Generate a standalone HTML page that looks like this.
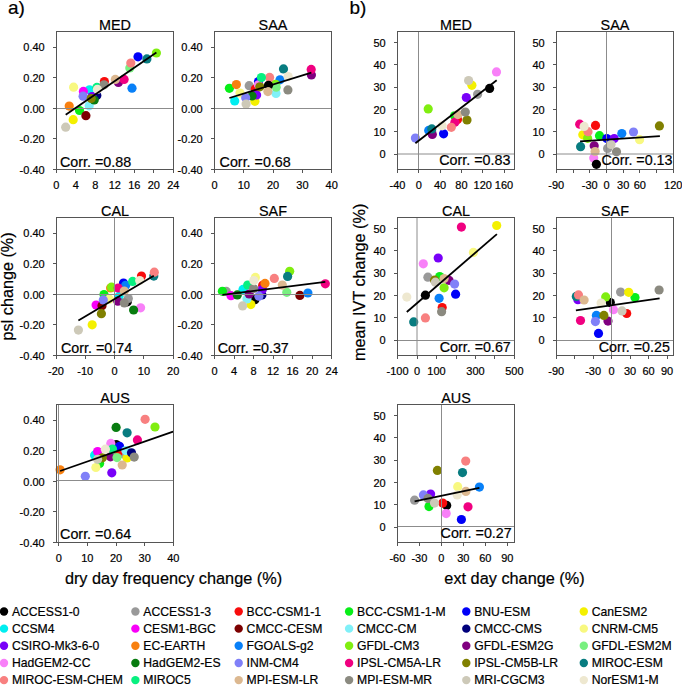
<!DOCTYPE html>
<html><head><meta charset="utf-8"><style>
html,body{margin:0;padding:0;background:#fff;}
svg{display:block;}
text{font-family:"Liberation Sans", sans-serif;fill:#000;stroke:#000;stroke-width:0.2px;}
</style></head><body>
<svg width="682" height="685" viewBox="0 0 682 685">
<rect width="682" height="685" fill="#fff"/>
<circle cx="104.4" cy="81.5" r="4.6" fill="#f80c0c"/>
<circle cx="79.5" cy="110.5" r="4.6" fill="#08ee18"/>
<circle cx="138" cy="56.8" r="4.6" fill="#0000f8"/>
<circle cx="73.2" cy="119.7" r="4.6" fill="#f4f000"/>
<circle cx="89.5" cy="89.8" r="4.6" fill="#00eef0"/>
<circle cx="83.4" cy="91.4" r="4.6" fill="#f800f8"/>
<circle cx="85.9" cy="115.7" r="4.6" fill="#7c0000"/>
<circle cx="89.2" cy="105.8" r="4.6" fill="#80f0f8"/>
<circle cx="96.8" cy="95.5" r="4.6" fill="#00007c"/>
<circle cx="73.6" cy="87.2" r="4.6" fill="#f8f880"/>
<circle cx="92" cy="96.5" r="4.6" fill="#7800f8"/>
<circle cx="69.2" cy="106.1" r="4.6" fill="#f88010"/>
<circle cx="132" cy="88.2" r="4.6" fill="#0880f8"/>
<circle cx="156.4" cy="53" r="4.6" fill="#80ee10"/>
<circle cx="118.4" cy="82.5" r="4.6" fill="#800080"/>
<circle cx="129.8" cy="68" r="4.6" fill="#78f080"/>
<circle cx="94.2" cy="100" r="4.6" fill="#087c10"/>
<circle cx="83.1" cy="96.2" r="4.6" fill="#8080f8"/>
<circle cx="124.1" cy="79.4" r="4.6" fill="#f00080"/>
<circle cx="91.2" cy="98.5" r="4.6" fill="#808000"/>
<circle cx="146.9" cy="58.9" r="4.6" fill="#087c80"/>
<circle cx="130.8" cy="63.1" r="4.6" fill="#f88080"/>
<circle cx="96.9" cy="87.4" r="4.6" fill="#08f080"/>
<circle cx="115.3" cy="79.4" r="4.6" fill="#dcb890"/>
<circle cx="104" cy="84.8" r="4.6" fill="#8b8a80"/>
<circle cx="65.7" cy="127.2" r="4.6" fill="#cdc9b8"/>
<circle cx="97.4" cy="89.4" r="4.6" fill="#eee8d0"/>
<line x1="56.5" y1="108.50" x2="173.5" y2="108.50" stroke="#8c8c8c" stroke-width="1"/>
<line x1="65.7" y1="114.7" x2="156.4" y2="52.6" stroke="#000" stroke-width="1.8"/>
<rect x="56.5" y="31.5" width="117.00" height="138" fill="none" stroke="#555" stroke-width="1"/>
<line x1="56.50" y1="169.5" x2="56.50" y2="173.0" stroke="#555" stroke-width="1"/>
<text x="56.20" y="188.80" font-size="11" text-anchor="middle" >0</text>
<line x1="75.50" y1="169.5" x2="75.50" y2="173.0" stroke="#555" stroke-width="1"/>
<text x="75.72" y="188.80" font-size="11" text-anchor="middle" >4</text>
<line x1="95.50" y1="169.5" x2="95.50" y2="173.0" stroke="#555" stroke-width="1"/>
<text x="95.23" y="188.80" font-size="11" text-anchor="middle" >8</text>
<line x1="114.50" y1="169.5" x2="114.50" y2="173.0" stroke="#555" stroke-width="1"/>
<text x="114.75" y="188.80" font-size="11" text-anchor="middle" >12</text>
<line x1="134.50" y1="169.5" x2="134.50" y2="173.0" stroke="#555" stroke-width="1"/>
<text x="134.27" y="188.80" font-size="11" text-anchor="middle" >16</text>
<line x1="153.50" y1="169.5" x2="153.50" y2="173.0" stroke="#555" stroke-width="1"/>
<text x="153.78" y="188.80" font-size="11" text-anchor="middle" >20</text>
<line x1="173.50" y1="169.5" x2="173.50" y2="173.0" stroke="#555" stroke-width="1"/>
<text x="173.30" y="188.80" font-size="11" text-anchor="middle" >24</text>
<line x1="53.0" y1="47.50" x2="56.5" y2="47.50" stroke="#555" stroke-width="1"/>
<text x="44.70" y="51.30" font-size="11" text-anchor="end" >0.40</text>
<line x1="53.0" y1="77.50" x2="56.5" y2="77.50" stroke="#555" stroke-width="1"/>
<text x="44.70" y="81.90" font-size="11" text-anchor="end" >0.20</text>
<line x1="53.0" y1="108.50" x2="56.5" y2="108.50" stroke="#555" stroke-width="1"/>
<text x="44.70" y="112.50" font-size="11" text-anchor="end" >0.00</text>
<line x1="53.0" y1="138.50" x2="56.5" y2="138.50" stroke="#555" stroke-width="1"/>
<text x="44.70" y="143.10" font-size="11" text-anchor="end" >-0.20</text>
<line x1="53.0" y1="169.50" x2="56.5" y2="169.50" stroke="#555" stroke-width="1"/>
<text x="44.70" y="173.70" font-size="11" text-anchor="end" >-0.40</text>
<text x="115.00" y="29.90" font-size="14.4" text-anchor="middle" >MED</text>
<text x="60.00" y="166.70" font-size="14.3" text-anchor="start" >Corr. =0.88</text>
<circle cx="249.2" cy="85.7" r="4.6" fill="#999999"/>
<circle cx="255.3" cy="89" r="4.6" fill="#f80c0c"/>
<circle cx="229.4" cy="88.3" r="4.6" fill="#08ee18"/>
<circle cx="258.5" cy="81.5" r="4.6" fill="#0000f8"/>
<circle cx="254.9" cy="101.3" r="4.6" fill="#f4f000"/>
<circle cx="234.7" cy="100.9" r="4.6" fill="#00eef0"/>
<circle cx="276" cy="93.5" r="4.6" fill="#80f0f8"/>
<circle cx="240" cy="93" r="4.6" fill="#f8f880"/>
<circle cx="256.6" cy="95" r="4.6" fill="#7800f8"/>
<circle cx="236.4" cy="84.6" r="4.6" fill="#f88010"/>
<circle cx="280" cy="79.8" r="4.6" fill="#0880f8"/>
<circle cx="275.5" cy="84.3" r="4.6" fill="#80ee10"/>
<circle cx="311.4" cy="75" r="4.6" fill="#800080"/>
<circle cx="276.2" cy="87.2" r="4.6" fill="#78f080"/>
<circle cx="258.4" cy="84.8" r="4.6" fill="#f880f8"/>
<circle cx="252.1" cy="96" r="4.6" fill="#087c10"/>
<circle cx="245.7" cy="97.8" r="4.6" fill="#8080f8"/>
<circle cx="311.2" cy="69.4" r="4.6" fill="#f00080"/>
<circle cx="259.8" cy="86.8" r="4.6" fill="#808000"/>
<circle cx="283.5" cy="68.9" r="4.6" fill="#087c80"/>
<circle cx="269.6" cy="77.4" r="4.6" fill="#f88080"/>
<circle cx="261.4" cy="77.6" r="4.6" fill="#08f080"/>
<circle cx="268.5" cy="85.3" r="4.6" fill="#000000"/>
<circle cx="267.9" cy="91.6" r="4.6" fill="#dcb890"/>
<circle cx="287.9" cy="89.9" r="4.6" fill="#8b8a80"/>
<circle cx="246.1" cy="104" r="4.6" fill="#cdc9b8"/>
<circle cx="288.1" cy="76.6" r="4.6" fill="#eee8d0"/>
<line x1="214.5" y1="108.50" x2="331.5" y2="108.50" stroke="#8c8c8c" stroke-width="1"/>
<line x1="229.4" y1="98" x2="311.4" y2="72.7" stroke="#000" stroke-width="1.8"/>
<rect x="214.5" y="31.5" width="117.00" height="138" fill="none" stroke="#555" stroke-width="1"/>
<line x1="214.50" y1="169.5" x2="214.50" y2="173.0" stroke="#555" stroke-width="1"/>
<text x="214.50" y="188.80" font-size="11" text-anchor="middle" >0</text>
<line x1="243.50" y1="169.5" x2="243.50" y2="173.0" stroke="#555" stroke-width="1"/>
<text x="243.80" y="188.80" font-size="11" text-anchor="middle" >10</text>
<line x1="273.50" y1="169.5" x2="273.50" y2="173.0" stroke="#555" stroke-width="1"/>
<text x="273.10" y="188.80" font-size="11" text-anchor="middle" >20</text>
<line x1="302.50" y1="169.5" x2="302.50" y2="173.0" stroke="#555" stroke-width="1"/>
<text x="302.40" y="188.80" font-size="11" text-anchor="middle" >30</text>
<line x1="331.50" y1="169.5" x2="331.50" y2="173.0" stroke="#555" stroke-width="1"/>
<text x="331.70" y="188.80" font-size="11" text-anchor="middle" >40</text>
<line x1="211.0" y1="47.50" x2="214.5" y2="47.50" stroke="#555" stroke-width="1"/>
<text x="202.70" y="51.30" font-size="11" text-anchor="end" >0.40</text>
<line x1="211.0" y1="77.50" x2="214.5" y2="77.50" stroke="#555" stroke-width="1"/>
<text x="202.70" y="81.90" font-size="11" text-anchor="end" >0.20</text>
<line x1="211.0" y1="108.50" x2="214.5" y2="108.50" stroke="#555" stroke-width="1"/>
<text x="202.70" y="112.50" font-size="11" text-anchor="end" >0.00</text>
<line x1="211.0" y1="138.50" x2="214.5" y2="138.50" stroke="#555" stroke-width="1"/>
<text x="202.70" y="143.10" font-size="11" text-anchor="end" >-0.20</text>
<line x1="211.0" y1="169.50" x2="214.5" y2="169.50" stroke="#555" stroke-width="1"/>
<text x="202.70" y="173.70" font-size="11" text-anchor="end" >-0.40</text>
<text x="273.00" y="29.90" font-size="14.4" text-anchor="middle" >SAA</text>
<text x="219.60" y="166.70" font-size="14.3" text-anchor="start" >Corr. =0.68</text>
<circle cx="127.3" cy="301.8" r="4.6" fill="#000000"/>
<circle cx="128.3" cy="298.5" r="4.6" fill="#999999"/>
<circle cx="141.5" cy="276.1" r="4.6" fill="#f80c0c"/>
<circle cx="104" cy="294.6" r="4.6" fill="#08ee18"/>
<circle cx="123.5" cy="283.1" r="4.6" fill="#0000f8"/>
<circle cx="92.2" cy="324.8" r="4.6" fill="#f4f000"/>
<circle cx="119.1" cy="296.3" r="4.6" fill="#00eef0"/>
<circle cx="96.1" cy="305.1" r="4.6" fill="#f800f8"/>
<circle cx="102" cy="305.8" r="4.6" fill="#7c0000"/>
<circle cx="109.2" cy="299.2" r="4.6" fill="#f8f880"/>
<circle cx="110.6" cy="288" r="4.6" fill="#f88010"/>
<circle cx="125.7" cy="285.3" r="4.6" fill="#0880f8"/>
<circle cx="111.5" cy="287.2" r="4.6" fill="#80ee10"/>
<circle cx="117.8" cy="301.2" r="4.6" fill="#800080"/>
<circle cx="140.6" cy="307.8" r="4.6" fill="#f880f8"/>
<circle cx="133.6" cy="310" r="4.6" fill="#087c10"/>
<circle cx="103.3" cy="299.9" r="4.6" fill="#8080f8"/>
<circle cx="118.2" cy="288" r="4.6" fill="#f00080"/>
<circle cx="101.4" cy="313.7" r="4.6" fill="#808000"/>
<circle cx="153.8" cy="276.1" r="4.6" fill="#087c80"/>
<circle cx="154.3" cy="272.2" r="4.6" fill="#f88080"/>
<circle cx="132.7" cy="281.4" r="4.6" fill="#08f080"/>
<circle cx="124.3" cy="291.1" r="4.6" fill="#dcb890"/>
<circle cx="124.3" cy="302.9" r="4.6" fill="#8b8a80"/>
<circle cx="78.4" cy="330.1" r="4.6" fill="#cdc9b8"/>
<circle cx="139.7" cy="280.5" r="4.6" fill="#eee8d0"/>
<line x1="56.5" y1="294.50" x2="173.5" y2="294.50" stroke="#8c8c8c" stroke-width="1"/>
<line x1="114.5" y1="217.5" x2="114.5" y2="355.5" stroke="#8c8c8c" stroke-width="1"/>
<line x1="78.4" y1="320.6" x2="153.8" y2="275.7" stroke="#000" stroke-width="1.8"/>
<rect x="56.5" y="217.5" width="117.00" height="138" fill="none" stroke="#555" stroke-width="1"/>
<line x1="56.50" y1="355.5" x2="56.50" y2="359.0" stroke="#555" stroke-width="1"/>
<text x="56.00" y="374.80" font-size="11" text-anchor="middle" >-20</text>
<line x1="85.50" y1="355.5" x2="85.50" y2="359.0" stroke="#555" stroke-width="1"/>
<text x="85.30" y="374.80" font-size="11" text-anchor="middle" >-10</text>
<line x1="114.50" y1="355.5" x2="114.50" y2="359.0" stroke="#555" stroke-width="1"/>
<text x="114.60" y="374.80" font-size="11" text-anchor="middle" >0</text>
<line x1="143.50" y1="355.5" x2="143.50" y2="359.0" stroke="#555" stroke-width="1"/>
<text x="143.90" y="374.80" font-size="11" text-anchor="middle" >10</text>
<line x1="173.50" y1="355.5" x2="173.50" y2="359.0" stroke="#555" stroke-width="1"/>
<text x="173.20" y="374.80" font-size="11" text-anchor="middle" >20</text>
<line x1="53.0" y1="233.50" x2="56.5" y2="233.50" stroke="#555" stroke-width="1"/>
<text x="44.70" y="237.30" font-size="11" text-anchor="end" >0.40</text>
<line x1="53.0" y1="263.50" x2="56.5" y2="263.50" stroke="#555" stroke-width="1"/>
<text x="44.70" y="267.90" font-size="11" text-anchor="end" >0.20</text>
<line x1="53.0" y1="294.50" x2="56.5" y2="294.50" stroke="#555" stroke-width="1"/>
<text x="44.70" y="298.50" font-size="11" text-anchor="end" >0.00</text>
<line x1="53.0" y1="324.50" x2="56.5" y2="324.50" stroke="#555" stroke-width="1"/>
<text x="44.70" y="329.10" font-size="11" text-anchor="end" >-0.20</text>
<line x1="53.0" y1="355.50" x2="56.5" y2="355.50" stroke="#555" stroke-width="1"/>
<text x="44.70" y="359.70" font-size="11" text-anchor="end" >-0.40</text>
<text x="115.00" y="215.90" font-size="14.4" text-anchor="middle" >CAL</text>
<text x="61.00" y="353.10" font-size="14.3" text-anchor="start" >Corr. =0.74</text>
<circle cx="254.9" cy="299.7" r="4.6" fill="#000000"/>
<circle cx="226.3" cy="291.4" r="4.6" fill="#999999"/>
<circle cx="262.7" cy="285.3" r="4.6" fill="#f80c0c"/>
<circle cx="222.4" cy="291.3" r="4.6" fill="#08ee18"/>
<circle cx="250.9" cy="304.6" r="4.6" fill="#f4f000"/>
<circle cx="243" cy="289.4" r="4.6" fill="#00eef0"/>
<circle cx="231" cy="295.7" r="4.6" fill="#f800f8"/>
<circle cx="299.9" cy="295.4" r="4.6" fill="#7c0000"/>
<circle cx="247" cy="298.9" r="4.6" fill="#80f0f8"/>
<circle cx="261.9" cy="294.9" r="4.6" fill="#00007c"/>
<circle cx="255.4" cy="277.4" r="4.6" fill="#f8f880"/>
<circle cx="262.3" cy="289.5" r="4.6" fill="#7800f8"/>
<circle cx="265" cy="283.4" r="4.6" fill="#f88010"/>
<circle cx="307.9" cy="293" r="4.6" fill="#0880f8"/>
<circle cx="289.7" cy="271.3" r="4.6" fill="#80ee10"/>
<circle cx="249.2" cy="294" r="4.6" fill="#800080"/>
<circle cx="286.8" cy="292.3" r="4.6" fill="#78f080"/>
<circle cx="237.3" cy="294.9" r="4.6" fill="#087c10"/>
<circle cx="258.9" cy="296.2" r="4.6" fill="#8080f8"/>
<circle cx="325.3" cy="283.8" r="4.6" fill="#f00080"/>
<circle cx="287.6" cy="276.4" r="4.6" fill="#087c80"/>
<circle cx="274.3" cy="278.4" r="4.6" fill="#f88080"/>
<circle cx="247.7" cy="285" r="4.6" fill="#08f080"/>
<circle cx="282.3" cy="285.1" r="4.6" fill="#dcb890"/>
<circle cx="253.6" cy="288.5" r="4.6" fill="#8b8a80"/>
<circle cx="242.6" cy="305.9" r="4.6" fill="#cdc9b8"/>
<circle cx="253.8" cy="280.6" r="4.6" fill="#eee8d0"/>
<line x1="214.5" y1="294.50" x2="331.5" y2="294.50" stroke="#8c8c8c" stroke-width="1"/>
<line x1="222.4" y1="294.9" x2="325.3" y2="281.8" stroke="#000" stroke-width="1.8"/>
<rect x="214.5" y="217.5" width="117.00" height="138" fill="none" stroke="#555" stroke-width="1"/>
<line x1="214.50" y1="355.5" x2="214.50" y2="359.0" stroke="#555" stroke-width="1"/>
<text x="214.50" y="374.80" font-size="11" text-anchor="middle" >0</text>
<line x1="234.50" y1="355.5" x2="234.50" y2="359.0" stroke="#555" stroke-width="1"/>
<text x="234.03" y="374.80" font-size="11" text-anchor="middle" >4</text>
<line x1="253.50" y1="355.5" x2="253.50" y2="359.0" stroke="#555" stroke-width="1"/>
<text x="253.57" y="374.80" font-size="11" text-anchor="middle" >8</text>
<line x1="273.50" y1="355.5" x2="273.50" y2="359.0" stroke="#555" stroke-width="1"/>
<text x="273.10" y="374.80" font-size="11" text-anchor="middle" >12</text>
<line x1="292.50" y1="355.5" x2="292.50" y2="359.0" stroke="#555" stroke-width="1"/>
<text x="292.63" y="374.80" font-size="11" text-anchor="middle" >16</text>
<line x1="312.50" y1="355.5" x2="312.50" y2="359.0" stroke="#555" stroke-width="1"/>
<text x="312.17" y="374.80" font-size="11" text-anchor="middle" >20</text>
<line x1="331.50" y1="355.5" x2="331.50" y2="359.0" stroke="#555" stroke-width="1"/>
<text x="331.70" y="374.80" font-size="11" text-anchor="middle" >24</text>
<line x1="211.0" y1="233.50" x2="214.5" y2="233.50" stroke="#555" stroke-width="1"/>
<text x="202.70" y="237.30" font-size="11" text-anchor="end" >0.40</text>
<line x1="211.0" y1="263.50" x2="214.5" y2="263.50" stroke="#555" stroke-width="1"/>
<text x="202.70" y="267.90" font-size="11" text-anchor="end" >0.20</text>
<line x1="211.0" y1="294.50" x2="214.5" y2="294.50" stroke="#555" stroke-width="1"/>
<text x="202.70" y="298.50" font-size="11" text-anchor="end" >0.00</text>
<line x1="211.0" y1="324.50" x2="214.5" y2="324.50" stroke="#555" stroke-width="1"/>
<text x="202.70" y="329.10" font-size="11" text-anchor="end" >-0.20</text>
<line x1="211.0" y1="355.50" x2="214.5" y2="355.50" stroke="#555" stroke-width="1"/>
<text x="202.70" y="359.70" font-size="11" text-anchor="end" >-0.40</text>
<text x="273.00" y="215.90" font-size="14.4" text-anchor="middle" >SAF</text>
<text x="217.70" y="353.10" font-size="14.3" text-anchor="start" >Corr. =0.37</text>
<circle cx="116.2" cy="444.6" r="4.6" fill="#000000"/>
<circle cx="123.5" cy="454" r="4.6" fill="#999999"/>
<circle cx="118.5" cy="451.7" r="4.6" fill="#f80c0c"/>
<circle cx="99.6" cy="463.6" r="4.6" fill="#08ee18"/>
<circle cx="119.5" cy="446.3" r="4.6" fill="#0000f8"/>
<circle cx="127" cy="458" r="4.6" fill="#f4f000"/>
<circle cx="94.6" cy="455.2" r="4.6" fill="#00eef0"/>
<circle cx="97.6" cy="451.6" r="4.6" fill="#f800f8"/>
<circle cx="125.8" cy="450.6" r="4.6" fill="#80f0f8"/>
<circle cx="131.5" cy="452.8" r="4.6" fill="#00007c"/>
<circle cx="95.9" cy="467.5" r="4.6" fill="#f8f880"/>
<circle cx="111.8" cy="472.8" r="4.6" fill="#7800f8"/>
<circle cx="60.1" cy="469.8" r="4.6" fill="#f88010"/>
<circle cx="155" cy="427" r="4.6" fill="#80ee10"/>
<circle cx="110.5" cy="456.8" r="4.6" fill="#800080"/>
<circle cx="117" cy="457.6" r="4.6" fill="#78f080"/>
<circle cx="110.8" cy="443.4" r="4.6" fill="#f880f8"/>
<circle cx="116.1" cy="427.4" r="4.6" fill="#087c10"/>
<circle cx="85.3" cy="476.3" r="4.6" fill="#8080f8"/>
<circle cx="137.4" cy="439.9" r="4.6" fill="#f00080"/>
<circle cx="102.4" cy="457.8" r="4.6" fill="#808000"/>
<circle cx="127.1" cy="432.8" r="4.6" fill="#087c80"/>
<circle cx="145.1" cy="419.3" r="4.6" fill="#f88080"/>
<circle cx="112.5" cy="449.1" r="4.6" fill="#08f080"/>
<circle cx="122.2" cy="465" r="4.6" fill="#dcb890"/>
<circle cx="134.2" cy="457.1" r="4.6" fill="#8b8a80"/>
<circle cx="97.6" cy="459.3" r="4.6" fill="#cdc9b8"/>
<circle cx="105.4" cy="449.2" r="4.6" fill="#eee8d0"/>
<line x1="56.5" y1="480.50" x2="173.5" y2="480.50" stroke="#8c8c8c" stroke-width="1"/>
<line x1="58.5" y1="404.5" x2="58.5" y2="542.5" stroke="#8c8c8c" stroke-width="1"/>
<line x1="60.1" y1="471" x2="173.1" y2="431.7" stroke="#000" stroke-width="1.8"/>
<rect x="56.5" y="404.5" width="117.00" height="138" fill="none" stroke="#555" stroke-width="1"/>
<line x1="58.50" y1="542.5" x2="58.50" y2="546.0" stroke="#555" stroke-width="1"/>
<text x="58.70" y="561.80" font-size="11" text-anchor="middle" >0</text>
<line x1="87.50" y1="542.5" x2="87.50" y2="546.0" stroke="#555" stroke-width="1"/>
<text x="87.35" y="561.80" font-size="11" text-anchor="middle" >10</text>
<line x1="116.50" y1="542.5" x2="116.50" y2="546.0" stroke="#555" stroke-width="1"/>
<text x="116.00" y="561.80" font-size="11" text-anchor="middle" >20</text>
<line x1="144.50" y1="542.5" x2="144.50" y2="546.0" stroke="#555" stroke-width="1"/>
<text x="144.65" y="561.80" font-size="11" text-anchor="middle" >30</text>
<line x1="173.50" y1="542.5" x2="173.50" y2="546.0" stroke="#555" stroke-width="1"/>
<text x="173.30" y="561.80" font-size="11" text-anchor="middle" >40</text>
<line x1="53.0" y1="420.50" x2="56.5" y2="420.50" stroke="#555" stroke-width="1"/>
<text x="44.70" y="424.30" font-size="11" text-anchor="end" >0.40</text>
<line x1="53.0" y1="450.50" x2="56.5" y2="450.50" stroke="#555" stroke-width="1"/>
<text x="44.70" y="454.90" font-size="11" text-anchor="end" >0.20</text>
<line x1="53.0" y1="481.50" x2="56.5" y2="481.50" stroke="#555" stroke-width="1"/>
<text x="44.70" y="485.50" font-size="11" text-anchor="end" >0.00</text>
<line x1="53.0" y1="511.50" x2="56.5" y2="511.50" stroke="#555" stroke-width="1"/>
<text x="44.70" y="516.10" font-size="11" text-anchor="end" >-0.20</text>
<line x1="53.0" y1="542.50" x2="56.5" y2="542.50" stroke="#555" stroke-width="1"/>
<text x="44.70" y="546.70" font-size="11" text-anchor="end" >-0.40</text>
<text x="115.00" y="402.90" font-size="14.4" text-anchor="middle" >AUS</text>
<text x="60.10" y="539.40" font-size="14.3" text-anchor="start" >Corr. =0.64</text>
<circle cx="489.6" cy="88.4" r="4.6" fill="#000000"/>
<circle cx="477.6" cy="94.3" r="4.6" fill="#999999"/>
<circle cx="457.5" cy="119.6" r="4.6" fill="#f80c0c"/>
<circle cx="454.6" cy="115.8" r="4.6" fill="#08ee18"/>
<circle cx="443.6" cy="133.8" r="4.6" fill="#0000f8"/>
<circle cx="471.9" cy="85.3" r="4.6" fill="#f4f000"/>
<circle cx="466.3" cy="97.5" r="4.6" fill="#7800f8"/>
<circle cx="428.7" cy="130.4" r="4.6" fill="#0880f8"/>
<circle cx="428.2" cy="108.9" r="4.6" fill="#80ee10"/>
<circle cx="432.3" cy="134.5" r="4.6" fill="#800080"/>
<circle cx="496.5" cy="71.9" r="4.6" fill="#f880f8"/>
<circle cx="415.4" cy="138.1" r="4.6" fill="#8080f8"/>
<circle cx="454.9" cy="122.2" r="4.6" fill="#f00080"/>
<circle cx="467" cy="120" r="4.6" fill="#808000"/>
<circle cx="431.8" cy="128.9" r="4.6" fill="#087c80"/>
<circle cx="451.3" cy="127.3" r="4.6" fill="#f88080"/>
<circle cx="457.8" cy="114.6" r="4.6" fill="#dcb890"/>
<circle cx="465.3" cy="112" r="4.6" fill="#8b8a80"/>
<circle cx="468.6" cy="80.5" r="4.6" fill="#cdc9b8"/>
<circle cx="442.1" cy="125.8" r="4.6" fill="#eee8d0"/>
<line x1="397.5" y1="154.00" x2="514.5" y2="154.00" stroke="#8c8c8c" stroke-width="1"/>
<line x1="418.5" y1="31.5" x2="418.5" y2="169.5" stroke="#8c8c8c" stroke-width="1"/>
<line x1="415.4" y1="143.2" x2="496.7" y2="80.2" stroke="#000" stroke-width="1.8"/>
<rect x="397.5" y="31.5" width="117.00" height="138" fill="none" stroke="#555" stroke-width="1"/>
<line x1="397.50" y1="169.5" x2="397.50" y2="173.0" stroke="#555" stroke-width="1"/>
<text x="397.50" y="188.80" font-size="11" text-anchor="middle" >-40</text>
<line x1="418.50" y1="169.5" x2="418.50" y2="173.0" stroke="#555" stroke-width="1"/>
<text x="418.80" y="188.80" font-size="11" text-anchor="middle" >0</text>
<line x1="440.50" y1="169.5" x2="440.50" y2="173.0" stroke="#555" stroke-width="1"/>
<text x="440.10" y="188.80" font-size="11" text-anchor="middle" >40</text>
<line x1="461.50" y1="169.5" x2="461.50" y2="173.0" stroke="#555" stroke-width="1"/>
<text x="461.40" y="188.80" font-size="11" text-anchor="middle" >80</text>
<line x1="482.50" y1="169.5" x2="482.50" y2="173.0" stroke="#555" stroke-width="1"/>
<text x="482.70" y="188.80" font-size="11" text-anchor="middle" >120</text>
<line x1="504.50" y1="169.5" x2="504.50" y2="173.0" stroke="#555" stroke-width="1"/>
<text x="504.00" y="188.80" font-size="11" text-anchor="middle" >160</text>
<line x1="394.0" y1="42.50" x2="397.5" y2="42.50" stroke="#555" stroke-width="1"/>
<text x="385.70" y="46.80" font-size="11" text-anchor="end" >50</text>
<line x1="394.0" y1="64.50" x2="397.5" y2="64.50" stroke="#555" stroke-width="1"/>
<text x="385.70" y="69.10" font-size="11" text-anchor="end" >40</text>
<line x1="394.0" y1="87.50" x2="397.5" y2="87.50" stroke="#555" stroke-width="1"/>
<text x="385.70" y="91.40" font-size="11" text-anchor="end" >30</text>
<line x1="394.0" y1="109.50" x2="397.5" y2="109.50" stroke="#555" stroke-width="1"/>
<text x="385.70" y="113.70" font-size="11" text-anchor="end" >20</text>
<line x1="394.0" y1="131.50" x2="397.5" y2="131.50" stroke="#555" stroke-width="1"/>
<text x="385.70" y="136.00" font-size="11" text-anchor="end" >10</text>
<line x1="394.0" y1="154.50" x2="397.5" y2="154.50" stroke="#555" stroke-width="1"/>
<text x="385.70" y="158.30" font-size="11" text-anchor="end" >0</text>
<text x="456.00" y="29.90" font-size="14.4" text-anchor="middle" >MED</text>
<text x="439.30" y="165.10" font-size="14.3" text-anchor="start" >Corr. =0.83</text>
<circle cx="607.6" cy="148.4" r="4.6" fill="#999999"/>
<circle cx="595.5" cy="125.4" r="4.6" fill="#f80c0c"/>
<circle cx="599.5" cy="135.7" r="4.6" fill="#08ee18"/>
<circle cx="606.8" cy="138.5" r="4.6" fill="#0000f8"/>
<circle cx="582.8" cy="134.8" r="4.6" fill="#f4f000"/>
<circle cx="639.6" cy="139.7" r="4.6" fill="#f8f880"/>
<circle cx="614.2" cy="138.5" r="4.6" fill="#7800f8"/>
<circle cx="621.8" cy="133.5" r="4.6" fill="#0880f8"/>
<circle cx="587.6" cy="138.3" r="4.6" fill="#80ee10"/>
<circle cx="594.2" cy="145.8" r="4.6" fill="#800080"/>
<circle cx="593.7" cy="158.1" r="4.6" fill="#f880f8"/>
<circle cx="633.5" cy="132" r="4.6" fill="#8080f8"/>
<circle cx="579.7" cy="124.2" r="4.6" fill="#f00080"/>
<circle cx="659.4" cy="125.9" r="4.6" fill="#808000"/>
<circle cx="580.6" cy="146.7" r="4.6" fill="#087c80"/>
<circle cx="588" cy="131.7" r="4.6" fill="#f88080"/>
<circle cx="595.1" cy="151.5" r="4.6" fill="#dcb890"/>
<circle cx="616.5" cy="151.8" r="4.6" fill="#8b8a80"/>
<circle cx="611" cy="144.5" r="4.6" fill="#cdc9b8"/>
<circle cx="584.1" cy="126.4" r="4.6" fill="#eee8d0"/>
<circle cx="596.4" cy="164.3" r="4.6" fill="#000000"/>
<line x1="556.5" y1="154.00" x2="673.5" y2="154.00" stroke="#8c8c8c" stroke-width="1"/>
<line x1="606.5" y1="31.5" x2="606.5" y2="169.5" stroke="#8c8c8c" stroke-width="1"/>
<line x1="580.1" y1="141.4" x2="659.9" y2="136.2" stroke="#000" stroke-width="1.8"/>
<rect x="556.5" y="31.5" width="117.00" height="138" fill="none" stroke="#555" stroke-width="1"/>
<line x1="556.50" y1="169.5" x2="556.50" y2="173.0" stroke="#555" stroke-width="1"/>
<text x="556.30" y="188.80" font-size="11" text-anchor="middle" >-90</text>
<line x1="573.50" y1="169.5" x2="573.50" y2="173.0" stroke="#555" stroke-width="1"/>
<line x1="589.50" y1="169.5" x2="589.50" y2="173.0" stroke="#555" stroke-width="1"/>
<text x="589.73" y="188.80" font-size="11" text-anchor="middle" >-30</text>
<line x1="606.50" y1="169.5" x2="606.50" y2="173.0" stroke="#555" stroke-width="1"/>
<text x="606.44" y="188.80" font-size="11" text-anchor="middle" >0</text>
<line x1="623.50" y1="169.5" x2="623.50" y2="173.0" stroke="#555" stroke-width="1"/>
<text x="623.16" y="188.80" font-size="11" text-anchor="middle" >30</text>
<line x1="639.50" y1="169.5" x2="639.50" y2="173.0" stroke="#555" stroke-width="1"/>
<text x="639.87" y="188.80" font-size="11" text-anchor="middle" >60</text>
<line x1="656.50" y1="169.5" x2="656.50" y2="173.0" stroke="#555" stroke-width="1"/>
<line x1="673.50" y1="169.5" x2="673.50" y2="173.0" stroke="#555" stroke-width="1"/>
<text x="673.30" y="188.80" font-size="11" text-anchor="middle" >120</text>
<line x1="553.0" y1="42.50" x2="556.5" y2="42.50" stroke="#555" stroke-width="1"/>
<text x="544.70" y="46.80" font-size="11" text-anchor="end" >50</text>
<line x1="553.0" y1="64.50" x2="556.5" y2="64.50" stroke="#555" stroke-width="1"/>
<text x="544.70" y="69.10" font-size="11" text-anchor="end" >40</text>
<line x1="553.0" y1="87.50" x2="556.5" y2="87.50" stroke="#555" stroke-width="1"/>
<text x="544.70" y="91.40" font-size="11" text-anchor="end" >30</text>
<line x1="553.0" y1="109.50" x2="556.5" y2="109.50" stroke="#555" stroke-width="1"/>
<text x="544.70" y="113.70" font-size="11" text-anchor="end" >20</text>
<line x1="553.0" y1="131.50" x2="556.5" y2="131.50" stroke="#555" stroke-width="1"/>
<text x="544.70" y="136.00" font-size="11" text-anchor="end" >10</text>
<line x1="553.0" y1="154.50" x2="556.5" y2="154.50" stroke="#555" stroke-width="1"/>
<text x="544.70" y="158.30" font-size="11" text-anchor="end" >0</text>
<text x="615.00" y="29.90" font-size="14.4" text-anchor="middle" >SAA</text>
<text x="601.40" y="165.10" font-size="14.3" text-anchor="start" >Corr. =0.13</text>
<circle cx="425.4" cy="295.2" r="4.6" fill="#000000"/>
<circle cx="427.9" cy="277.2" r="4.6" fill="#999999"/>
<circle cx="442.2" cy="307.6" r="4.6" fill="#f80c0c"/>
<circle cx="439.7" cy="276.6" r="4.6" fill="#08ee18"/>
<circle cx="455.6" cy="294.2" r="4.6" fill="#0000f8"/>
<circle cx="496.7" cy="225.5" r="4.6" fill="#f4f000"/>
<circle cx="473.4" cy="252.4" r="4.6" fill="#f8f880"/>
<circle cx="438.2" cy="258" r="4.6" fill="#7800f8"/>
<circle cx="439.1" cy="298.3" r="4.6" fill="#0880f8"/>
<circle cx="444.1" cy="287.8" r="4.6" fill="#80ee10"/>
<circle cx="449" cy="280.3" r="4.6" fill="#800080"/>
<circle cx="423.3" cy="263.8" r="4.6" fill="#f880f8"/>
<circle cx="454.6" cy="284.1" r="4.6" fill="#8080f8"/>
<circle cx="461.4" cy="227.1" r="4.6" fill="#f00080"/>
<circle cx="434.6" cy="280.2" r="4.6" fill="#808000"/>
<circle cx="413.7" cy="321.9" r="4.6" fill="#087c80"/>
<circle cx="425.4" cy="317.9" r="4.6" fill="#f88080"/>
<circle cx="444.1" cy="278.5" r="4.6" fill="#dcb890"/>
<circle cx="441.6" cy="311.7" r="4.6" fill="#8b8a80"/>
<circle cx="435.4" cy="282.2" r="4.6" fill="#cdc9b8"/>
<circle cx="406.8" cy="297.1" r="4.6" fill="#eee8d0"/>
<line x1="397.5" y1="340.50" x2="514.5" y2="340.50" stroke="#8c8c8c" stroke-width="1"/>
<line x1="417.0" y1="217.5" x2="417.0" y2="355.5" stroke="#8c8c8c" stroke-width="1"/>
<line x1="406.8" y1="312" x2="496.9" y2="234.1" stroke="#000" stroke-width="1.8"/>
<rect x="397.5" y="217.5" width="117.00" height="138" fill="none" stroke="#555" stroke-width="1"/>
<line x1="397.50" y1="355.5" x2="397.50" y2="359.0" stroke="#555" stroke-width="1"/>
<text x="397.60" y="374.80" font-size="11" text-anchor="middle" >-100</text>
<line x1="417.50" y1="355.5" x2="417.50" y2="359.0" stroke="#555" stroke-width="1"/>
<text x="417.07" y="374.80" font-size="11" text-anchor="middle" >0</text>
<line x1="436.50" y1="355.5" x2="436.50" y2="359.0" stroke="#555" stroke-width="1"/>
<text x="436.53" y="374.80" font-size="11" text-anchor="middle" >100</text>
<line x1="456.50" y1="355.5" x2="456.50" y2="359.0" stroke="#555" stroke-width="1"/>
<line x1="475.50" y1="355.5" x2="475.50" y2="359.0" stroke="#555" stroke-width="1"/>
<text x="475.47" y="374.80" font-size="11" text-anchor="middle" >300</text>
<line x1="494.50" y1="355.5" x2="494.50" y2="359.0" stroke="#555" stroke-width="1"/>
<line x1="514.50" y1="355.5" x2="514.50" y2="359.0" stroke="#555" stroke-width="1"/>
<text x="514.40" y="374.80" font-size="11" text-anchor="middle" >500</text>
<line x1="394.0" y1="228.50" x2="397.5" y2="228.50" stroke="#555" stroke-width="1"/>
<text x="385.70" y="232.80" font-size="11" text-anchor="end" >50</text>
<line x1="394.0" y1="250.50" x2="397.5" y2="250.50" stroke="#555" stroke-width="1"/>
<text x="385.70" y="255.10" font-size="11" text-anchor="end" >40</text>
<line x1="394.0" y1="273.50" x2="397.5" y2="273.50" stroke="#555" stroke-width="1"/>
<text x="385.70" y="277.40" font-size="11" text-anchor="end" >30</text>
<line x1="394.0" y1="295.50" x2="397.5" y2="295.50" stroke="#555" stroke-width="1"/>
<text x="385.70" y="299.70" font-size="11" text-anchor="end" >20</text>
<line x1="394.0" y1="317.50" x2="397.5" y2="317.50" stroke="#555" stroke-width="1"/>
<text x="385.70" y="322.00" font-size="11" text-anchor="end" >10</text>
<line x1="394.0" y1="340.50" x2="397.5" y2="340.50" stroke="#555" stroke-width="1"/>
<text x="385.70" y="344.30" font-size="11" text-anchor="end" >0</text>
<text x="456.00" y="215.90" font-size="14.4" text-anchor="middle" >CAL</text>
<text x="439.70" y="351.50" font-size="14.3" text-anchor="start" >Corr. =0.67</text>
<circle cx="610.3" cy="302.6" r="4.6" fill="#000000"/>
<circle cx="620.6" cy="292.1" r="4.6" fill="#999999"/>
<circle cx="626.7" cy="313.5" r="4.6" fill="#f80c0c"/>
<circle cx="635" cy="297.6" r="4.6" fill="#08ee18"/>
<circle cx="598.5" cy="333.4" r="4.6" fill="#0000f8"/>
<circle cx="628.7" cy="292.3" r="4.6" fill="#f4f000"/>
<circle cx="577.9" cy="299.7" r="4.6" fill="#7800f8"/>
<circle cx="596.4" cy="315.4" r="4.6" fill="#0880f8"/>
<circle cx="605.7" cy="296.9" r="4.6" fill="#80ee10"/>
<circle cx="608" cy="321.1" r="4.6" fill="#800080"/>
<circle cx="613.5" cy="309.7" r="4.6" fill="#f880f8"/>
<circle cx="595.4" cy="321.6" r="4.6" fill="#8080f8"/>
<circle cx="580.5" cy="320.5" r="4.6" fill="#f00080"/>
<circle cx="603.9" cy="315.4" r="4.6" fill="#808000"/>
<circle cx="576.3" cy="296.4" r="4.6" fill="#087c80"/>
<circle cx="578.5" cy="294.9" r="4.6" fill="#f88080"/>
<circle cx="584.1" cy="300" r="4.6" fill="#dcb890"/>
<circle cx="659.1" cy="290" r="4.6" fill="#8b8a80"/>
<circle cx="622" cy="310.9" r="4.6" fill="#cdc9b8"/>
<circle cx="601.1" cy="303.1" r="4.6" fill="#eee8d0"/>
<line x1="556.5" y1="340.50" x2="673.5" y2="340.50" stroke="#8c8c8c" stroke-width="1"/>
<line x1="611.5" y1="217.5" x2="611.5" y2="355.5" stroke="#8c8c8c" stroke-width="1"/>
<line x1="575.9" y1="310.3" x2="659.6" y2="298.4" stroke="#000" stroke-width="1.8"/>
<rect x="556.5" y="217.5" width="117.00" height="138" fill="none" stroke="#555" stroke-width="1"/>
<line x1="556.50" y1="355.5" x2="556.50" y2="359.0" stroke="#555" stroke-width="1"/>
<text x="556.20" y="374.80" font-size="11" text-anchor="middle" >-90</text>
<line x1="574.50" y1="355.5" x2="574.50" y2="359.0" stroke="#555" stroke-width="1"/>
<line x1="593.50" y1="355.5" x2="593.50" y2="359.0" stroke="#555" stroke-width="1"/>
<text x="593.13" y="374.80" font-size="11" text-anchor="middle" >-30</text>
<line x1="611.50" y1="355.5" x2="611.50" y2="359.0" stroke="#555" stroke-width="1"/>
<text x="611.60" y="374.80" font-size="11" text-anchor="middle" >0</text>
<line x1="630.50" y1="355.5" x2="630.50" y2="359.0" stroke="#555" stroke-width="1"/>
<text x="630.07" y="374.80" font-size="11" text-anchor="middle" >30</text>
<line x1="648.50" y1="355.5" x2="648.50" y2="359.0" stroke="#555" stroke-width="1"/>
<text x="648.53" y="374.80" font-size="11" text-anchor="middle" >60</text>
<line x1="667.50" y1="355.5" x2="667.50" y2="359.0" stroke="#555" stroke-width="1"/>
<text x="667.00" y="374.80" font-size="11" text-anchor="middle" >90</text>
<line x1="553.0" y1="228.50" x2="556.5" y2="228.50" stroke="#555" stroke-width="1"/>
<text x="544.70" y="232.80" font-size="11" text-anchor="end" >50</text>
<line x1="553.0" y1="250.50" x2="556.5" y2="250.50" stroke="#555" stroke-width="1"/>
<text x="544.70" y="255.10" font-size="11" text-anchor="end" >40</text>
<line x1="553.0" y1="273.50" x2="556.5" y2="273.50" stroke="#555" stroke-width="1"/>
<text x="544.70" y="277.40" font-size="11" text-anchor="end" >30</text>
<line x1="553.0" y1="295.50" x2="556.5" y2="295.50" stroke="#555" stroke-width="1"/>
<text x="544.70" y="299.70" font-size="11" text-anchor="end" >20</text>
<line x1="553.0" y1="317.50" x2="556.5" y2="317.50" stroke="#555" stroke-width="1"/>
<text x="544.70" y="322.00" font-size="11" text-anchor="end" >10</text>
<line x1="553.0" y1="340.50" x2="556.5" y2="340.50" stroke="#555" stroke-width="1"/>
<text x="544.70" y="344.30" font-size="11" text-anchor="end" >0</text>
<text x="615.00" y="215.90" font-size="14.4" text-anchor="middle" >SAF</text>
<text x="598.80" y="351.50" font-size="14.3" text-anchor="start" >Corr. =0.25</text>
<circle cx="446.7" cy="505.4" r="4.6" fill="#000000"/>
<circle cx="414.6" cy="500.2" r="4.6" fill="#999999"/>
<circle cx="442.7" cy="503.1" r="4.6" fill="#f80c0c"/>
<circle cx="429" cy="506.6" r="4.6" fill="#08ee18"/>
<circle cx="461.4" cy="519.5" r="4.6" fill="#0000f8"/>
<circle cx="457.7" cy="486.7" r="4.6" fill="#f8f880"/>
<circle cx="430.6" cy="494" r="4.6" fill="#7800f8"/>
<circle cx="479.4" cy="487.1" r="4.6" fill="#0880f8"/>
<circle cx="446.2" cy="513.6" r="4.6" fill="#f880f8"/>
<circle cx="423.4" cy="494.9" r="4.6" fill="#8080f8"/>
<circle cx="468" cy="506.8" r="4.6" fill="#f00080"/>
<circle cx="437.4" cy="470.4" r="4.6" fill="#808000"/>
<circle cx="462.5" cy="472.6" r="4.6" fill="#087c80"/>
<circle cx="465.7" cy="461.1" r="4.6" fill="#f88080"/>
<circle cx="465.9" cy="491.4" r="4.6" fill="#dcb890"/>
<circle cx="428" cy="498.4" r="4.6" fill="#8b8a80"/>
<circle cx="434.5" cy="503.1" r="4.6" fill="#cdc9b8"/>
<circle cx="457.2" cy="494.9" r="4.6" fill="#eee8d0"/>
<line x1="397.5" y1="526.50" x2="514.5" y2="526.50" stroke="#8c8c8c" stroke-width="1"/>
<line x1="441.5" y1="404.5" x2="441.5" y2="542.5" stroke="#8c8c8c" stroke-width="1"/>
<line x1="414.6" y1="501.4" x2="479.4" y2="487.9" stroke="#000" stroke-width="1.8"/>
<rect x="397.5" y="404.5" width="117.00" height="138" fill="none" stroke="#555" stroke-width="1"/>
<line x1="397.50" y1="542.5" x2="397.50" y2="546.0" stroke="#555" stroke-width="1"/>
<text x="397.40" y="561.80" font-size="11" text-anchor="middle" >-60</text>
<line x1="419.50" y1="542.5" x2="419.50" y2="546.0" stroke="#555" stroke-width="1"/>
<text x="419.38" y="561.80" font-size="11" text-anchor="middle" >-30</text>
<line x1="441.50" y1="542.5" x2="441.50" y2="546.0" stroke="#555" stroke-width="1"/>
<text x="441.36" y="561.80" font-size="11" text-anchor="middle" >0</text>
<line x1="463.50" y1="542.5" x2="463.50" y2="546.0" stroke="#555" stroke-width="1"/>
<text x="463.34" y="561.80" font-size="11" text-anchor="middle" >30</text>
<line x1="485.50" y1="542.5" x2="485.50" y2="546.0" stroke="#555" stroke-width="1"/>
<text x="485.32" y="561.80" font-size="11" text-anchor="middle" >60</text>
<line x1="507.50" y1="542.5" x2="507.50" y2="546.0" stroke="#555" stroke-width="1"/>
<text x="507.30" y="561.80" font-size="11" text-anchor="middle" >90</text>
<line x1="394.0" y1="415.50" x2="397.5" y2="415.50" stroke="#555" stroke-width="1"/>
<text x="385.70" y="419.80" font-size="11" text-anchor="end" >50</text>
<line x1="394.0" y1="437.50" x2="397.5" y2="437.50" stroke="#555" stroke-width="1"/>
<text x="385.70" y="442.10" font-size="11" text-anchor="end" >40</text>
<line x1="394.0" y1="460.50" x2="397.5" y2="460.50" stroke="#555" stroke-width="1"/>
<text x="385.70" y="464.40" font-size="11" text-anchor="end" >30</text>
<line x1="394.0" y1="482.50" x2="397.5" y2="482.50" stroke="#555" stroke-width="1"/>
<text x="385.70" y="486.70" font-size="11" text-anchor="end" >20</text>
<line x1="394.0" y1="504.50" x2="397.5" y2="504.50" stroke="#555" stroke-width="1"/>
<text x="385.70" y="509.00" font-size="11" text-anchor="end" >10</text>
<line x1="394.0" y1="527.50" x2="397.5" y2="527.50" stroke="#555" stroke-width="1"/>
<text x="385.70" y="531.30" font-size="11" text-anchor="end" >0</text>
<text x="456.00" y="402.90" font-size="14.4" text-anchor="middle" >AUS</text>
<text x="440.60" y="538.10" font-size="14.3" text-anchor="start" >Corr. =0.27</text>
<text x="8.00" y="14.20" font-size="19" text-anchor="start" >a)</text>
<text x="349.40" y="14.20" font-size="19" text-anchor="start" >b)</text>
<text x="173.50" y="584.30" font-size="16.3" text-anchor="middle" >dry day frequency change (%)</text>
<text x="514.50" y="584.30" font-size="16.3" text-anchor="middle" >ext day change (%)</text>
<text x="0" y="0" font-size="16.2" text-anchor="middle" transform="translate(13.1,286.4) rotate(-90)">psl change (%)</text>
<text x="0" y="0" font-size="16.2" text-anchor="middle" transform="translate(365.2,282.3) rotate(-90)">mean IVT change (%)</text>
<circle cx="4.0" cy="611.5" r="4.2" fill="#000000"/>
<text x="11.90" y="615.70" font-size="12.2" text-anchor="start" >ACCESS1-0</text>
<circle cx="135.4" cy="611.5" r="4.2" fill="#999999"/>
<text x="143.30" y="615.70" font-size="12.2" text-anchor="start" >ACCESS1-3</text>
<circle cx="238.7" cy="611.5" r="4.2" fill="#f80c0c"/>
<text x="246.60" y="615.70" font-size="12.2" text-anchor="start" >BCC-CSM1-1</text>
<circle cx="349.1" cy="611.5" r="4.2" fill="#08ee18"/>
<text x="357.00" y="615.70" font-size="12.2" text-anchor="start" >BCC-CSM1-1-M</text>
<circle cx="466.3" cy="611.5" r="4.2" fill="#0000f8"/>
<text x="474.20" y="615.70" font-size="12.2" text-anchor="start" >BNU-ESM</text>
<circle cx="583.8" cy="611.5" r="4.2" fill="#f4f000"/>
<text x="591.70" y="615.70" font-size="12.2" text-anchor="start" >CanESM2</text>
<circle cx="4.0" cy="628.65" r="4.2" fill="#00eef0"/>
<text x="11.90" y="632.85" font-size="12.2" text-anchor="start" >CCSM4</text>
<circle cx="135.4" cy="628.65" r="4.2" fill="#f800f8"/>
<text x="143.30" y="632.85" font-size="12.2" text-anchor="start" >CESM1-BGC</text>
<circle cx="238.7" cy="628.65" r="4.2" fill="#7c0000"/>
<text x="246.60" y="632.85" font-size="12.2" text-anchor="start" >CMCC-CESM</text>
<circle cx="349.1" cy="628.65" r="4.2" fill="#80f0f8"/>
<text x="357.00" y="632.85" font-size="12.2" text-anchor="start" >CMCC-CM</text>
<circle cx="466.3" cy="628.65" r="4.2" fill="#00007c"/>
<text x="474.20" y="632.85" font-size="12.2" text-anchor="start" >CMCC-CMS</text>
<circle cx="583.8" cy="628.65" r="4.2" fill="#f8f880"/>
<text x="591.70" y="632.85" font-size="12.2" text-anchor="start" >CNRM-CM5</text>
<circle cx="4.0" cy="645.8" r="4.2" fill="#7800f8"/>
<text x="11.90" y="650.00" font-size="12.2" text-anchor="start" >CSIRO-Mk3-6-0</text>
<circle cx="135.4" cy="645.8" r="4.2" fill="#f88010"/>
<text x="143.30" y="650.00" font-size="12.2" text-anchor="start" >EC-EARTH</text>
<circle cx="238.7" cy="645.8" r="4.2" fill="#0880f8"/>
<text x="246.60" y="650.00" font-size="12.2" text-anchor="start" >FGOALS-g2</text>
<circle cx="349.1" cy="645.8" r="4.2" fill="#80ee10"/>
<text x="357.00" y="650.00" font-size="12.2" text-anchor="start" >GFDL-CM3</text>
<circle cx="466.3" cy="645.8" r="4.2" fill="#800080"/>
<text x="474.20" y="650.00" font-size="12.2" text-anchor="start" >GFDL-ESM2G</text>
<circle cx="583.8" cy="645.8" r="4.2" fill="#78f080"/>
<text x="591.70" y="650.00" font-size="12.2" text-anchor="start" >GFDL-ESM2M</text>
<circle cx="4.0" cy="662.95" r="4.2" fill="#f880f8"/>
<text x="11.90" y="667.15" font-size="12.2" text-anchor="start" >HadGEM2-CC</text>
<circle cx="135.4" cy="662.95" r="4.2" fill="#087c10"/>
<text x="143.30" y="667.15" font-size="12.2" text-anchor="start" >HadGEM2-ES</text>
<circle cx="238.7" cy="662.95" r="4.2" fill="#8080f8"/>
<text x="246.60" y="667.15" font-size="12.2" text-anchor="start" >INM-CM4</text>
<circle cx="349.1" cy="662.95" r="4.2" fill="#f00080"/>
<text x="357.00" y="667.15" font-size="12.2" text-anchor="start" >IPSL-CM5A-LR</text>
<circle cx="466.3" cy="662.95" r="4.2" fill="#808000"/>
<text x="474.20" y="667.15" font-size="12.2" text-anchor="start" >IPSL-CM5B-LR</text>
<circle cx="583.8" cy="662.95" r="4.2" fill="#087c80"/>
<text x="591.70" y="667.15" font-size="12.2" text-anchor="start" >MIROC-ESM</text>
<circle cx="4.0" cy="680.1" r="4.2" fill="#f88080"/>
<text x="11.90" y="684.30" font-size="12.2" text-anchor="start" >MIROC-ESM-CHEM</text>
<circle cx="135.4" cy="680.1" r="4.2" fill="#08f080"/>
<text x="143.30" y="684.30" font-size="12.2" text-anchor="start" >MIROC5</text>
<circle cx="238.7" cy="680.1" r="4.2" fill="#dcb890"/>
<text x="246.60" y="684.30" font-size="12.2" text-anchor="start" >MPI-ESM-LR</text>
<circle cx="349.1" cy="680.1" r="4.2" fill="#8b8a80"/>
<text x="357.00" y="684.30" font-size="12.2" text-anchor="start" >MPI-ESM-MR</text>
<circle cx="466.3" cy="680.1" r="4.2" fill="#cdc9b8"/>
<text x="474.20" y="684.30" font-size="12.2" text-anchor="start" >MRI-CGCM3</text>
<circle cx="583.8" cy="680.1" r="4.2" fill="#eee8d0"/>
<text x="591.70" y="684.30" font-size="12.2" text-anchor="start" >NorESM1-M</text>
</svg>
</body></html>
